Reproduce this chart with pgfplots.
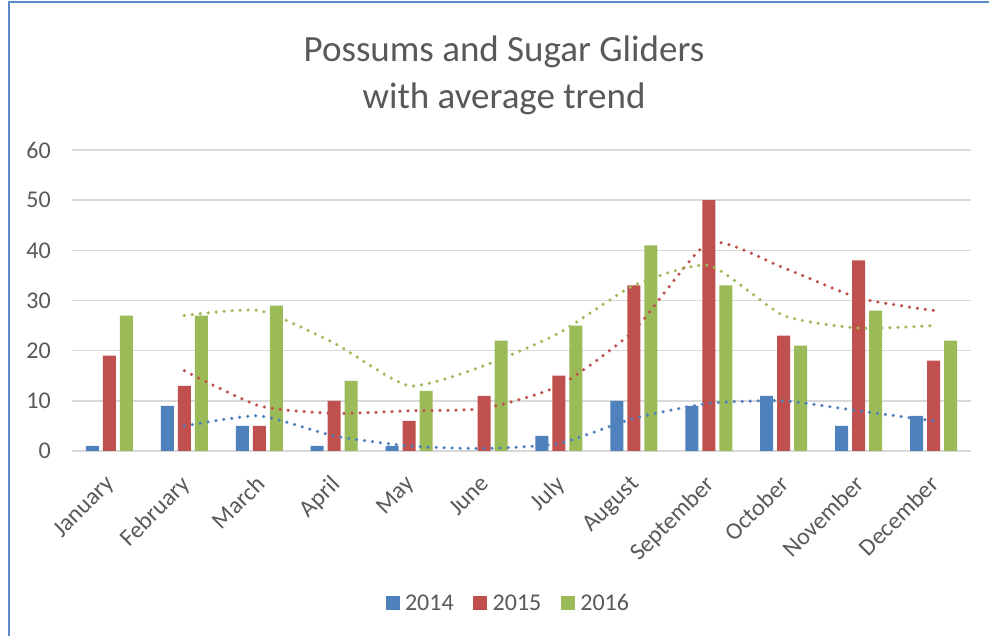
\documentclass[border=0pt]{standalone}
\usepackage{fontspec}
\setmainfont{Carlito}
\usepackage{pgfplots}
\pgfplotsset{compat=1.18}
\definecolor{c14}{HTML}{4F81BD}
\definecolor{c15}{HTML}{C0504D}
\definecolor{c16}{HTML}{9BBB59}
\definecolor{txt}{HTML}{595959}
\definecolor{gridc}{HTML}{D9D9D9}
\definecolor{framec}{HTML}{5B8AC6}
\begin{document}
\begin{tikzpicture}
\useasboundingbox (0pt,0pt) rectangle (989pt,636pt);
\fill[white] (0pt,0pt) rectangle (989pt,636pt);
\draw[framec, line width=2pt] (9pt,0pt) -- (9pt,634pt) -- (989pt,634pt);
\node[text=txt, align=center, font=\fontsize{37}{47}\selectfont] at (504pt,561pt) {Possums and Sugar Gliders\\with average trend};
\begin{axis}[
  at={(72pt,185pt)}, anchor=south west,
  scale only axis, width=899pt, height=301pt,
  xmin=-0.5, xmax=11.5, ymin=0, ymax=60,
  xtick={0,1,2,3,4,5,6,7,8,9,10,11},
  xticklabels={January,February,March,April,May,June,July,August,September,October,November,December},
  ytick={0,10,20,30,40,50,60},
  ymajorgrids, grid style={gridc, line width=1.5pt},
  axis line style={draw=none}, tick style={draw=none},
  tick label style={font=\fontsize{24}{29}\selectfont, text=txt},
  /pgf/number format/assume math mode=true,
  yticklabel style={anchor=east, inner sep=0pt, xshift=-21pt},
  xticklabel style={xshift=-5pt, yshift=-23pt, rotate=45, anchor=north east, inner sep=0pt},
  legend style={at={(0.485,-0.505)}, anchor=center, draw=none, fill=none,
    legend columns=3, font=\fontsize{24}{29}\selectfont, text=txt,
    nodes={inner sep=1.5pt},
    /tikz/every odd column/.append style={column sep=4pt},
    /tikz/every even column/.append style={column sep=18pt}},
  legend cell align=left,
  clip=false
]
\addplot[ybar, bar width=13pt, bar shift=-17pt, fill=c14, draw=none,
  legend image code/.code={\fill[c14] (0pt,-7pt) rectangle (14pt,7pt);}]
  coordinates {(0,1) (1,9) (2,5) (3,1) (4,1) (5,0) (6,3) (7,10) (8,9) (9,11) (10,5) (11,7)};
\addplot[ybar, bar width=13pt, bar shift=0pt, fill=c15, draw=none,
  legend image code/.code={\fill[c15] (0pt,-7pt) rectangle (14pt,7pt);}]
  coordinates {(0,19) (1,13) (2,5) (3,10) (4,6) (5,11) (6,15) (7,33) (8,50) (9,23) (10,38) (11,18)};
\addplot[ybar, bar width=13pt, bar shift=17pt, fill=c16, draw=none,
  legend image code/.code={\fill[c16] (0pt,-7pt) rectangle (14pt,7pt);}]
  coordinates {(0,27) (1,27) (2,29) (3,14) (4,12) (5,22) (6,25) (7,41) (8,33) (9,21) (10,28) (11,22)};
\legend{2014,2015,2016}
\addplot[c14, line width=3.5pt, dash pattern=on 0pt off 8pt, line cap=round, smooth, tension=0.35, forget plot]
  coordinates {(1,5) (2,7) (3,3) (4,1) (5,0.5) (6,1.5) (7,6.5) (8,9.5) (9,10) (10,8) (11,6)};
\addplot[c15, line width=3.5pt, dash pattern=on 0pt off 8pt, line cap=round, smooth, tension=0.35, forget plot]
  coordinates {(1,16) (2,9) (3,7.5) (4,8) (5,8.5) (6,13) (7,24) (8,41.5) (9,36.5) (10,30.5) (11,28)};
\addplot[c16, line width=3.5pt, dash pattern=on 0pt off 8pt, line cap=round, smooth, tension=0.35, forget plot]
  coordinates {(1,27) (2,28) (3,21.5) (4,13) (5,17) (6,23.5) (7,33) (8,37) (9,27) (10,24.5) (11,25)};
\end{axis}
\end{tikzpicture}
\end{document}
